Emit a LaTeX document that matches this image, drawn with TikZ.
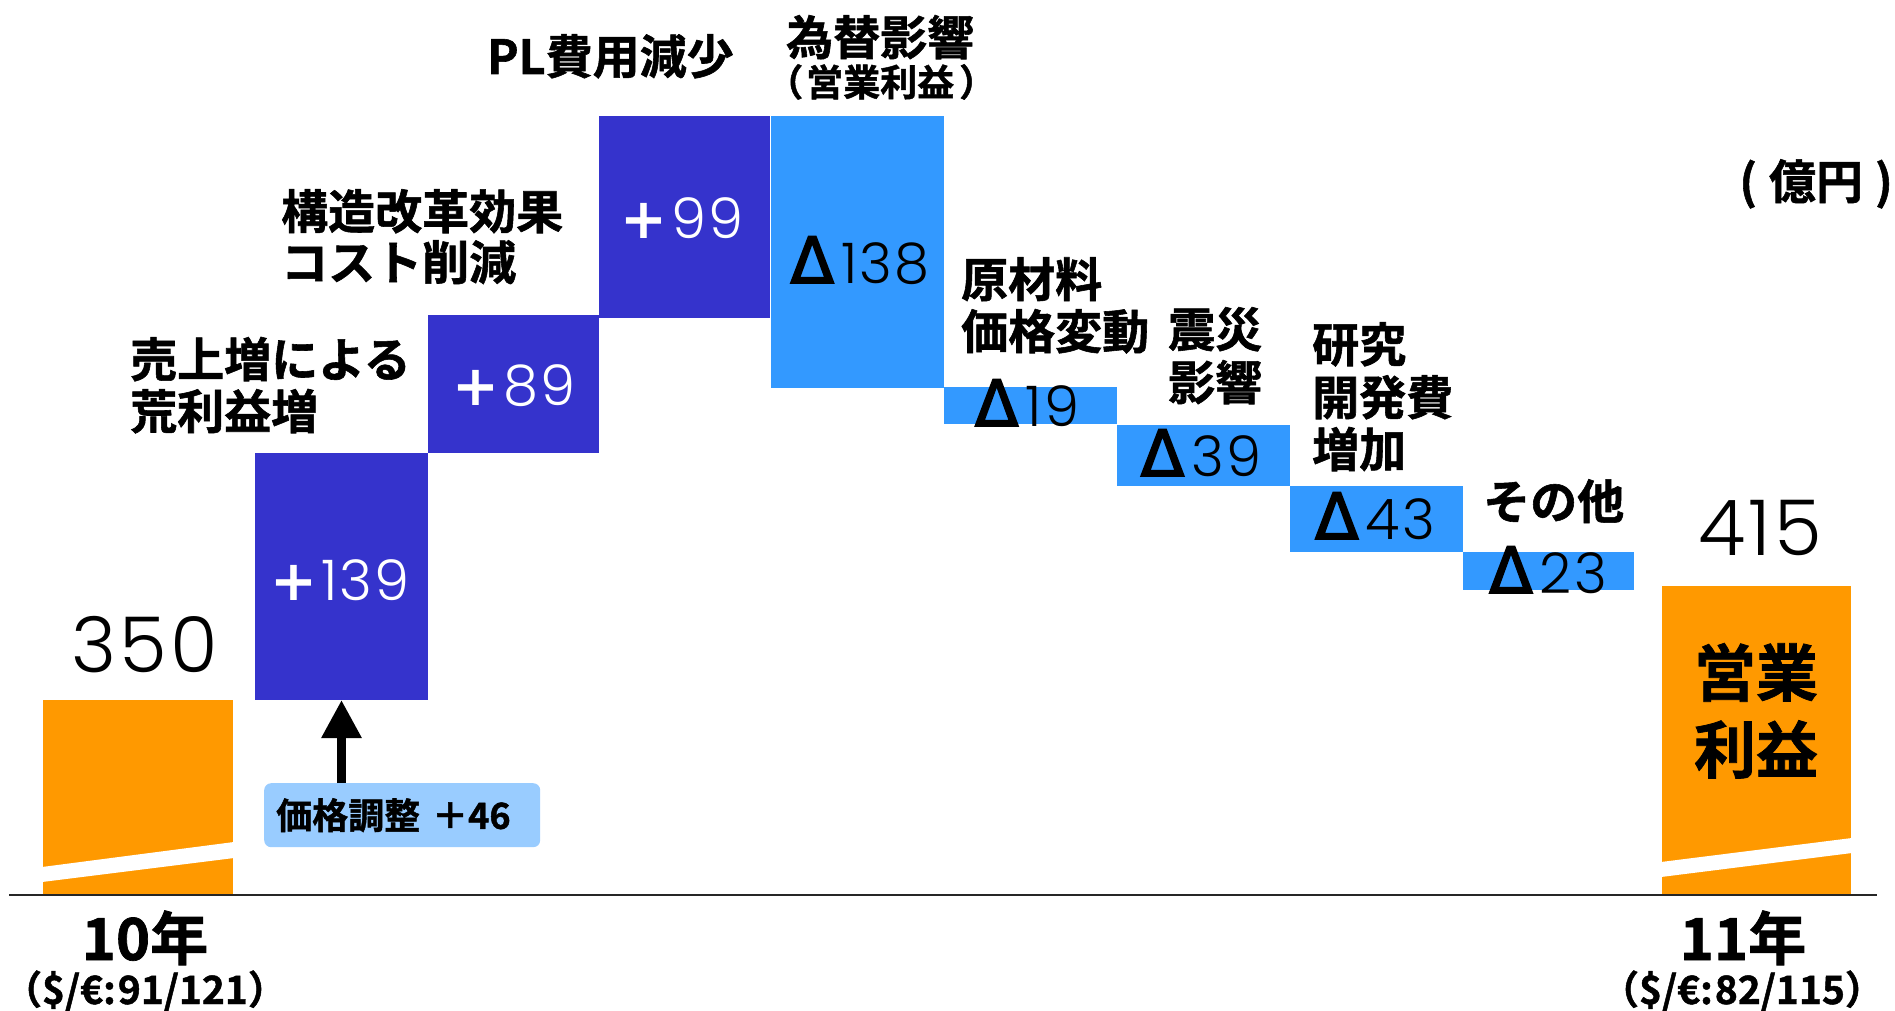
\documentclass[tikz,border=0pt]{standalone}
\usepackage{fontspec}
\newfontfamily\jp{Noto Sans CJK JP}[UprightFont={* Bold}, FakeBold=1.2]
\newfontfamily\numf{Poppins}[UprightFont={* Light}, Numbers=Monospaced, LetterSpace=4]
\newfontfamily\dvb{DejaVu Sans}[UprightFont={* Bold}]
\newfontfamily\dvs{DejaVu Sans}[FakeBold=2.5]
\usetikzlibrary{arrows.meta}
\definecolor{dblue}{HTML}{3533CC}
\definecolor{lblue}{HTML}{3399FF}
\definecolor{orng}{HTML}{FF9900}
\definecolor{boxblue}{HTML}{99CCFF}
\newcommand\dlt{{\dvs\fontsize{64}{64}\selectfont Δ}\kern7pt}
\newcommand\pls{{\dvb +}\kern4pt}
\begin{document}
\begin{tikzpicture}[x=1pt,y=-1pt,
  bar/.style={inner sep=0pt, outer sep=0pt, anchor=north west},
  lab/.style={inner sep=0pt, anchor=base west, font=\jp\fontsize{47}{52}\selectfont},
  val/.style={inner sep=0pt, anchor=base, font=\numf\fontsize{56}{60}\selectfont},
  big/.style={inner sep=0pt, anchor=base, font=\numf\fontsize{77}{80}\selectfont}]
\useasboundingbox[fill=white] (0,0) rectangle (1895,1011);

% bars
\node[bar, fill=orng,  minimum width=190pt, minimum height=195pt] (o1)  at (43,700) {};
\node[bar, fill=dblue, minimum width=173pt, minimum height=247pt] (b139) at (255,453) {};
\node[bar, fill=dblue, minimum width=171pt, minimum height=138pt] (b89)  at (428,315) {};
\node[bar, fill=dblue, minimum width=171pt, minimum height=202pt] (b99)  at (599,116) {};
\node[bar, fill=lblue, minimum width=173pt, minimum height=272pt] (d138) at (771,116) {};
\node[bar, fill=lblue, minimum width=173pt, minimum height=37pt]  (d19)  at (944,387) {};
\node[bar, fill=lblue, minimum width=173pt, minimum height=61pt]  (d39)  at (1117,425) {};
\node[bar, fill=lblue, minimum width=173pt, minimum height=66pt]  (d43)  at (1290,486) {};
\node[bar, fill=lblue, minimum width=171pt, minimum height=38pt]  (d23)  at (1463,552) {};
\node[bar, fill=orng,  minimum width=189pt, minimum height=309pt] (o2)  at (1662,586) {};

% breaks in the orange bars
\fill[white] (42,867) -- (234,842) -- (234,858) -- (42,882) -- cycle;
\fill[white] (1661,862) -- (1852,838) -- (1852,853) -- (1661,877) -- cycle;

% axis
\draw[line width=2pt, black!85] (9,895) -- (1877,895);

% values
\node[big] (v350) at (145,672) {350};
\node[big] (v415) at (1760,555) {415};
\node[val, text=white] (t139) at (340,600) {\pls 139};
\node[val, text=white] (t89)  at (514,405) {\pls 89};
\node[val, text=white] (t99)  at (682,239) {\pls 99};
\node[val] (t138) at (860,283) {\dlt 138};
\node[val] (t19)  at (1027,426) {\dlt 19};
\node[val] (t39)  at (1201,476) {\dlt 39};
\node[val] (t43)  at (1375,539) {\dlt 43};
\node[val] (t23)  at (1548,593) {\dlt 23};

% category labels
\node[lab] (l1a) at (130,377) {売上増による};
\node[lab] (l1b) at (130,429) {荒利益増};
\node[lab] (l2a) at (281,229) {構造改革効果};
\node[lab] (l2b) at (281,280) {コスト削減};
\node[lab] (l3)  at (487,74)  {PL費用減少};
\node[lab] (l4a) at (786,55)  {為替影響};
\node[lab, font=\jp\fontsize{37}{40}\selectfont] (l4b) at (766,96) {（\kern3pt営業利益\kern5pt）};
\node[lab] (l5a) at (961,297) {原材料};
\node[lab] (l5b) at (961,349) {価格変動};
\node[lab] (l6a) at (1168,347) {震災};
\node[lab] (l6b) at (1168,400) {影響};
\node[lab] (l7a) at (1312,362) {研究};
\node[lab] (l7b) at (1312,415) {開発費};
\node[lab] (l7c) at (1312,467) {増加};
\node[lab] (l8)  at (1483,519) {その他};
\node[inner sep=0pt, anchor=base east, font=\jp\fontsize{47}{50}\selectfont] (unit) at (1893,199) {(\kern12pt億円\kern12pt)};

% final bar text
\node[inner sep=0pt, anchor=base, font=\jp\fontsize{62}{66}\selectfont] (op1) at (1756,696) {営業};
\node[inner sep=0pt, anchor=base, font=\jp\fontsize{62}{66}\selectfont] (op2) at (1756,773) {利益};

% price adjustment box and arrow
\node[fill=boxblue, rounded corners=7pt, minimum height=64pt, text width=252pt, align=left,
      inner xsep=12pt, inner ysep=0pt, anchor=north west,
      font=\jp\fontsize{36}{40}\selectfont] (adj) at (264,783) {価格調整 ＋46};
\draw[line width=9pt, -{Triangle[width=38pt,length=38pt]}] (b139.south |- adj.north) -- (b139.south);

% years
\node[inner sep=0pt, anchor=base, font=\jp\fontsize{58}{60}\selectfont] (y10) at (145,960) {10年};
\node[inner sep=0pt, anchor=base, font=\jp\fontsize{39}{42}\selectfont] (fx10) at (145,1004) {（\$/€:\kern2pt 91/121）};
\node[inner sep=0pt, anchor=base, font=\jp\fontsize{58}{60}\selectfont] (y11) at (1743,960) {11年};
\node[inner sep=0pt, anchor=base, font=\jp\fontsize{39}{42}\selectfont] (fx11) at (1742,1004) {（\$/€:\kern2pt 82/115）};
\end{tikzpicture}
\end{document}
